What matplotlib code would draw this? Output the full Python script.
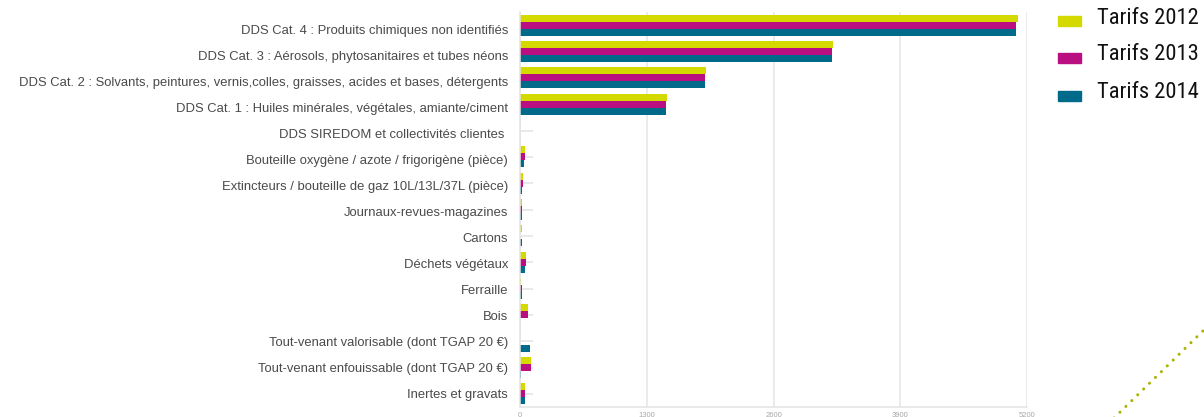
import matplotlib
matplotlib.use("Agg")
import matplotlib.pyplot as plt
import numpy as np
from matplotlib.lines import Line2D
from matplotlib.patches import Rectangle
import matplotlib.transforms as mtransforms

categories = [
    "DDS Cat. 4 : Produits chimiques non identifiés",
    "DDS Cat. 3 : Aérosols, phytosanitaires et tubes néons",
    "DDS Cat. 2 : Solvants, peintures, vernis,colles, graisses, acides et bases, détergents",
    "DDS Cat. 1 : Huiles minérales, végétales, amiante/ciment",
    "DDS SIREDOM et collectivités clientes ",
    "Bouteille oxygène / azote / frigorigène (pièce)",
    "Extincteurs / bouteille de gaz 10L/13L/37L (pièce)",
    "Journaux-revues-magazines",
    "Cartons",
    "Déchets végétaux",
    "Ferraille",
    "Bois",
    "Tout-venant valorisable (dont TGAP 20 €)",
    "Tout-venant enfouissable (dont TGAP 20 €)",
    "Inertes et gravats",
]
tarifs_2012 = [5105, 3210, 1905, 1505, 0, 50, 35, 20, 20, 58, 13, 80, 0, 110, 50]
tarifs_2013 = [5090, 3195, 1900, 1500, 0, 50, 28, 17, 0, 58, 20, 80, 0, 110, 50]
tarifs_2014 = [5090, 3195, 1900, 1500, 0, 40, 25, 17, 20, 55, 20, 0, 100, 10, 50]
series_names = ["Tarifs 2012", "Tarifs 2013", "Tarifs 2014"]
series_colors = ["#d4da00", "#b90f80", "#006a8a"]
x_ticks = [0, 1300, 2600, 3900, 5200]

W, H = 1204, 417
fig = plt.figure(figsize=(W / 100, H / 100), dpi=100)
ax = fig.add_axes([520 / W, 1 - 407 / H, (1027 - 520) / W, (407 - 12) / H])

y = np.arange(len(categories))
bh = 0.266
for i, (vals, col) in enumerate(zip([tarifs_2012, tarifs_2013, tarifs_2014], series_colors)):
    ax.barh(y + (i - 1) * bh, vals, height=bh, color=col, zorder=2)

ax.set_xlim(0, 5200)
ax.set_ylim(len(categories) - 0.5, -0.5)
ax.set_xticks(x_ticks)
ax.set_xticklabels([str(v) for v in x_ticks])
ax.set_yticks(y)
ax.set_yticklabels(categories)
ax.set_axisbelow(True)
ax.grid(axis="x", color="#e6e6e6", linewidth=1.1)

for s in ["top", "right"]:
    ax.spines[s].set_visible(False)
for s in ["left", "bottom"]:
    ax.spines[s].set_color("#e3e3e3")
    ax.spines[s].set_linewidth(1.1)

ax.tick_params(axis="y", direction="in", length=9.5, color="#e3e3e3", width=1.1,
               labelsize=9.35, labelcolor="#4a4a4a", pad=8.5)
ax.tick_params(axis="x", length=0, labelsize=5.5, labelcolor="#a8a8a8", pad=3.5)
n = len(categories)
for i, lab in enumerate(ax.get_yticklabels()):
    lab.set_fontfamily(["Liberation Sans", "DejaVu Sans"])
    off = 4.5 * (1 - i / (n - 1))
    lab.set_transform(lab.get_transform() + mtransforms.ScaledTranslation(0, -off / 100, fig.dpi_scale_trans))
for lab in ax.get_xticklabels():
    lab.set_fontfamily(["Liberation Sans", "DejaVu Sans"])

# legend
leg_y = [21, 57.5, 95.5]
for name, col, yc in zip(series_names, series_colors, leg_y):
    fig.patches.append(Rectangle((1058 / W, 1 - (yc + 5) / H), 23 / W, 10 / H,
                                 transform=fig.transFigure, color=col))
    fig.text(1097 / W, 1 - (yc - 3) / H, name, fontsize=16.2, color="#111111",
             va="center", ha="left",
             family=["Liberation Sans Narrow", "Roboto Condensed", "Liberation Sans", "DejaVu Sans"])

# decorative dotted line
fig.add_artist(Line2D([1112 / W, 1210 / W], [1 - 420 / H, 1 - 324 / H], transform=fig.transFigure,
                      color="#a9b300", linewidth=2.2, linestyle=(0, (0.01, 2.7)),
                      dash_capstyle="round"))

fig.savefig("out.png", dpi=100)
